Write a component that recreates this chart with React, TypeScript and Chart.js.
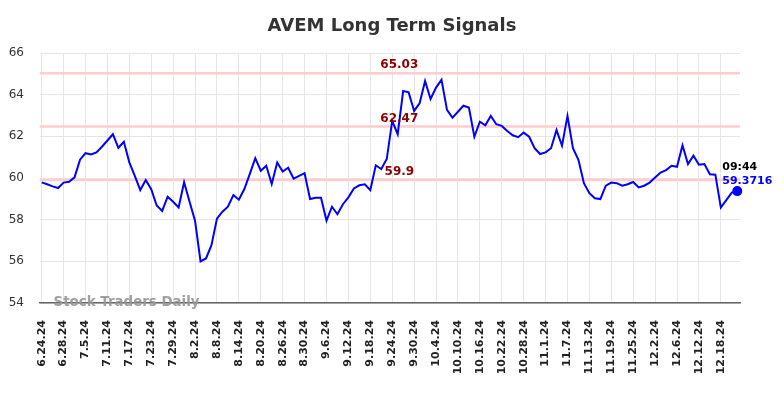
import React, { useEffect, useRef } from "react";
import { Chart, registerables } from "chart.js";

Chart.register(...registerables);

const chartTitle = "AVEM Long Term Signals";
const watermark = "Stock Traders Daily";

// one label every 4 trading days
const tickEvery = 4;
const tickLabels = [
  "6.24.24", "6.28.24", "7.5.24", "7.11.24", "7.17.24", "7.23.24", "7.29.24", "8.2.24",
  "8.8.24", "8.14.24", "8.20.24", "8.26.24", "8.30.24", "9.6.24", "9.12.24", "9.18.24",
  "9.24.24", "9.30.24", "10.4.24", "10.10.24", "10.16.24", "10.22.24", "10.28.24", "11.1.24",
  "11.7.24", "11.13.24", "11.19.24", "11.25.24", "12.2.24", "12.6.24", "12.12.24", "12.18.24",
];

const prices = [
  59.79, 59.70, 59.60, 59.52, 59.78, 59.82, 60.03, 60.88, 61.19, 61.13,
  61.23, 61.50, 61.80, 62.10, 61.45, 61.74, 60.75, 60.10, 59.42, 59.90,
  59.46, 58.68, 58.42, 59.10, 58.86, 58.59, 59.80, 58.86, 57.95, 56.00,
  56.14, 56.78, 58.05, 58.38, 58.62, 59.18, 58.96, 59.47, 60.20, 60.95,
  60.35, 60.59, 59.71, 60.74, 60.31, 60.49, 59.97, 60.10, 60.23, 58.99,
  59.05, 59.05, 57.95, 58.62, 58.26, 58.74, 59.07, 59.50, 59.65, 59.70,
  59.42, 60.61, 60.43, 60.91, 62.74, 62.10, 64.18, 64.11, 63.22, 63.59,
  64.66, 63.79, 64.34, 64.71, 63.27, 62.90, 63.18, 63.47, 63.38, 61.98,
  62.70, 62.53, 62.98, 62.58, 62.50, 62.26, 62.05, 61.96, 62.18, 61.98,
  61.43, 61.15, 61.23, 61.43, 62.30, 61.55, 62.98, 61.43, 60.87, 59.75,
  59.27, 59.03, 58.99, 59.63, 59.78, 59.75, 59.63, 59.70, 59.81, 59.55,
  59.63, 59.78, 60.02, 60.26, 60.38, 60.59, 60.54, 61.57, 60.67, 61.07,
  60.64, 60.67, 60.18, 60.16, 58.58, 58.94, 59.30, 59.3716,
];

const signalLevels = [65.03, 62.47, 59.9];
const lastTime = "09:44";
const lastValueText = "59.3716";

const yMin = 54;
const yMax = 66;
const yStep = 2;

const FONT = "'DejaVu Sans', sans-serif";

export default function App() {
  const canvasRef = useRef<HTMLCanvasElement | null>(null);

  useEffect(() => {
    const canvas = canvasRef.current;
    if (!canvas) return;
    const n = prices.length;
    const xMin = -0.4;
    const xMax = n - 0.5;
    const labelAt = 65.3;

    const overlay = {
      id: "overlay",
      afterDraw(chart: any) {
        const ctx = chart.ctx;
        const xs = chart.scales.x;
        const ys = chart.scales.y;
        const area = chart.chartArea;
        ctx.save();
        // title
        ctx.fillStyle = "#333333";
        ctx.font = `bold 18px ${FONT}`;
        ctx.textAlign = "center";
        ctx.textBaseline = "middle";
        ctx.fillText(chartTitle, chart.width / 2, 26);
        // signal labels
        ctx.fillStyle = "#8b0000";
        ctx.font = `bold 12px ${FONT}`;
        ctx.textBaseline = "bottom";
        signalLevels.forEach((v) => {
          const txt = String(v);
          ctx.fillText(txt, xs.getPixelForValue(labelAt), ys.getPixelForValue(v) - 2);
        });
        // watermark
        ctx.fillStyle = "rgba(150,150,150,0.9)";
        ctx.font = `bold 13.4px ${FONT}`;
        ctx.textAlign = "left";
        ctx.textBaseline = "middle";
        ctx.fillText(watermark, area.left + 14, area.bottom);
        // last point labels
        const lx = xs.getPixelForValue(n - 1);
        const ly = ys.getPixelForValue(prices[n - 1]);
        ctx.font = `bold 11px ${FONT}`;
        ctx.fillStyle = "#000000";
        ctx.fillText(lastTime, lx - 15, ly - 24);
        ctx.fillStyle = "#0000ff";
        ctx.fillText(lastValueText, lx - 15, ly - 10);
        ctx.restore();
      },
    };

    const signalDatasets = signalLevels.map((v) => ({
      data: [
        { x: xMin, y: v },
        { x: xMax, y: v },
      ],
      borderColor: "#ffcccc",
      borderWidth: 2.5,
      pointRadius: 0,
      fill: false,
    }));

    const chart = new Chart(canvas, {
      type: "line",
      data: {
        datasets: [
          {
            data: prices.map((v, i) => ({ x: i, y: v })),
            borderColor: "#0000ff",
            backgroundColor: "#0000ff",
            borderWidth: 2,
            tension: 0,
            fill: false,
            clip: false,
            pointRadius: (c: any) => (c.dataIndex === n - 1 ? 4 : 0),
            pointHoverRadius: 0,
          },
          ...signalDatasets,
        ],
      },
      options: {
        animation: false,
        responsive: false,
        devicePixelRatio: 1,
        events: [],
        layout: { padding: { top: 53, right: 44, left: 0, bottom: 0 } },
        plugins: {
          legend: { display: false },
          title: { display: false },
          tooltip: { enabled: false },
        },
        scales: {
          x: {
            type: "linear",
            min: xMin,
            max: xMax,
            afterBuildTicks: (scale: any) => {
              scale.ticks = tickLabels.map((_, k) => ({ value: k * tickEvery }));
            },
            afterFit: (scale: any) => {
              scale.height = 95;
            },
            grid: { color: "#e6e6e6", lineWidth: 1, drawTicks: false },
            border: { display: true, color: "#666666", width: 1.5 },
            ticks: {
              autoSkip: false,
              maxRotation: 90,
              minRotation: 90,
              padding: 17,
              color: "#222222",
              font: { family: FONT, size: 11, weight: "bold" },
              callback: (_v: any, idx: number) => tickLabels[idx],
            },
          },
          y: {
            min: yMin,
            max: yMax,
            afterFit: (scale: any) => {
              scale.width = 39.5;
            },
            grid: { color: "#e6e6e6", lineWidth: 1, drawTicks: false },
            border: { display: false },
            ticks: {
              stepSize: yStep,
              padding: 15.5,
              color: "#333333",
              font: { family: FONT, size: 12 },
            },
          },
        },
      },
      plugins: [overlay],
    } as any);

    return () => chart.destroy();
  }, []);

  return (
    <div style={{ position: "fixed", left: 0, top: 0, width: 784, height: 398, background: "#ffffff" }}>
      <canvas ref={canvasRef} width={784} height={398} style={{ display: "block", width: 784, height: 398 }} />
    </div>
  );
}
